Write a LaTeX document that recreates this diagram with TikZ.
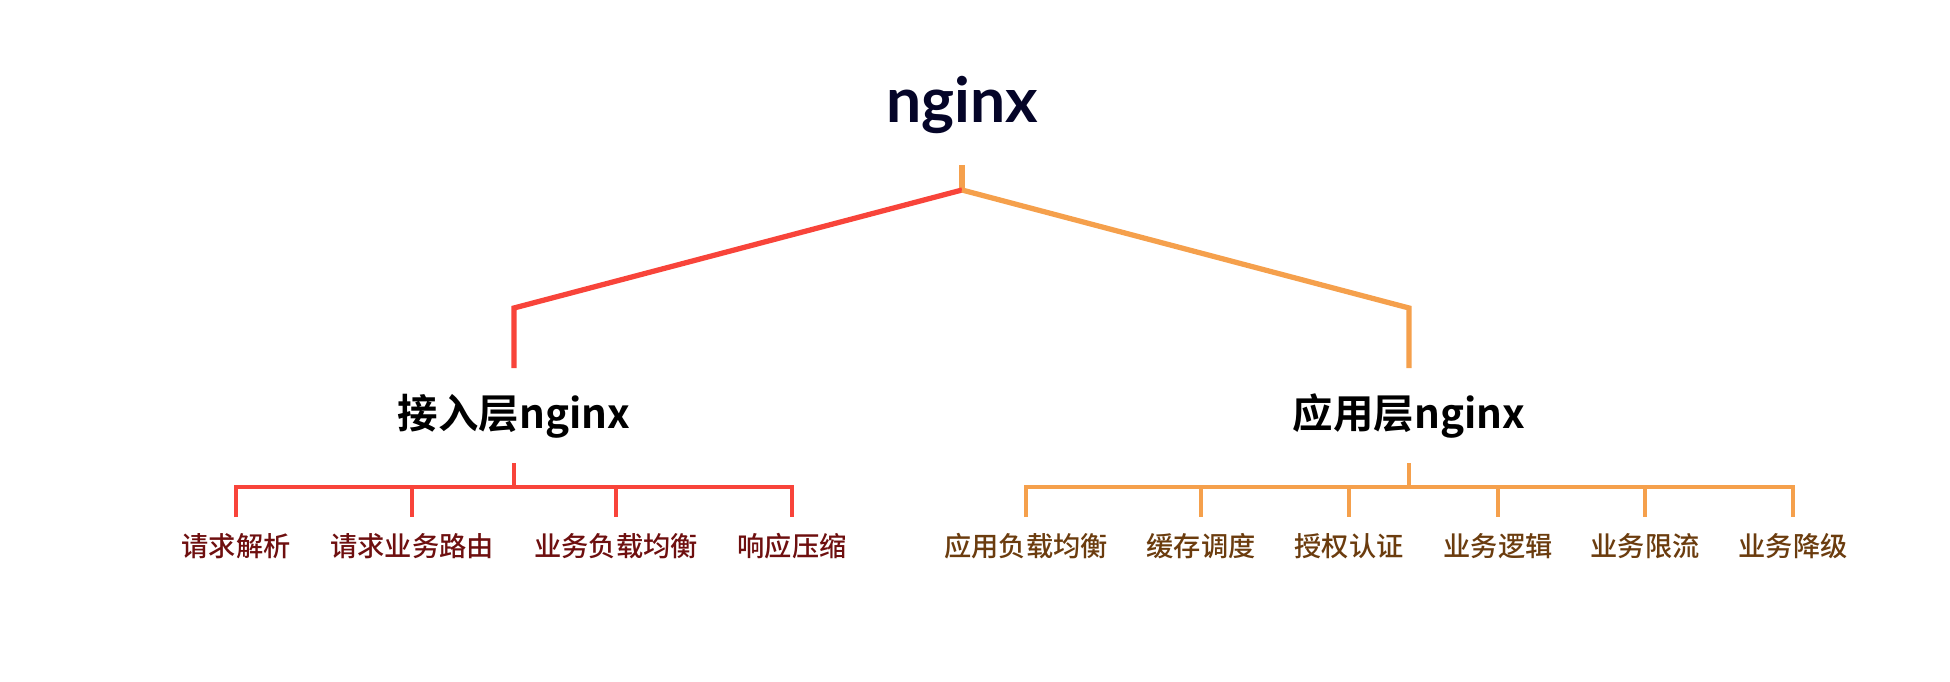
\documentclass[tikz,border=0pt]{standalone}
\usepackage{fontspec}
\usepackage{xcolor}
\usepackage{tikz}
\usetikzlibrary{calc}
\usetikzlibrary{positioning}
\newfontfamily\cjk[BoldFont={Noto Sans CJK SC Bold}]{Noto Sans CJK SC}
\newfontfamily\cjkmed{Noto Sans CJK SC Medium}
\newfontfamily\titlefont{Lato}
\definecolor{accred}{RGB}{248,68,58}
\definecolor{accorange}{RGB}{245,160,76}
\definecolor{leafred}{RGB}{110,15,15}
\definecolor{leafbrown}{RGB}{107,60,14}
\definecolor{titlenavy}{RGB}{5,5,40}
\tikzset{
  toplabel/.style={anchor=base, inner sep=0pt, text=titlenavy,
    font=\titlefont\bfseries\fontsize{35.5}{40}\selectfont},
  layerlabel/.style={anchor=base, inner sep=0pt, text=black,
    font=\cjk\bfseries\fontsize{23}{28}\selectfont},
  leaflabel/.style={anchor=base, inner sep=0pt,
    font=\cjkmed\fontsize{15.5}{18}\selectfont},
  bigline/.style={line width=3pt},
  smallline/.style={line width=2.4pt}
}

\begin{document}
\begin{tikzpicture}[x=0.02cm,y=-0.02cm]
  \useasboundingbox (0,0) rectangle (1950,682);

  % top level
  \node[toplabel] (root) at (962,123) {nginx};
  \coordinate (stub) at (962,165);
  \coordinate (fork) at (962,190);
  \coordinate (accesscorner) at (514,308);
  \coordinate (accesstop) at (514,368);
  \coordinate (appcorner) at (1409,308);
  \coordinate (apptop) at (1409,368);
  \draw[bigline, accorange] (stub) -- (fork);
  \draw[bigline, accred] (fork) -- (accesscorner) -- (accesstop);
  \draw[bigline, accorange] (fork) -- (appcorner) -- (apptop);

  % second level
  \node[layerlabel] (access) at (514,428) {接入层nginx};
  \node[layerlabel] (app) at (1409,428) {应用层nginx};

  % access layer
  \coordinate (accessstub) at (514,463);
  \coordinate (accessbar) at (514,487);
  \draw[smallline, accred] (accessstub) -- (accessbar);
  \foreach \x/\t [count=\i] in {236/请求解析, 412/请求业务路由,
      616/业务负载均衡, 792/响应压缩}
  {
    \coordinate (atop\i) at (\x,487);
    \coordinate (aend\i) at (\x,517);
    \node[leaflabel, text=leafred] (a\i) at (\x,556) {\t};
  }
  \draw[smallline, accred] (aend1) -- (atop1) -- (atop4) -- (aend4);
  \foreach \i in {2,3}
    \draw[smallline, accred] (atop\i) -- (aend\i);

  % app layer
  \coordinate (appstub) at (1409,463);
  \coordinate (appbar) at (1409,487);
  \draw[smallline, accorange] (appstub) -- (appbar);
  \foreach \x/\t [count=\i] in {1026/应用负载均衡, 1201/缓存调度,
      1349/授权认证, 1498/业务逻辑, 1645/业务限流, 1793/业务降级}
  {
    \coordinate (btop\i) at (\x,487);
    \coordinate (bend\i) at (\x,517);
    \node[leaflabel, text=leafbrown] (b\i) at (\x,556) {\t};
  }
  \draw[smallline, accorange] (bend1) -- (btop1) -- (btop6) -- (bend6);
  \foreach \i in {2,3,4,5}
    \draw[smallline, accorange] (btop\i) -- (bend\i);
\end{tikzpicture}
\end{document}
